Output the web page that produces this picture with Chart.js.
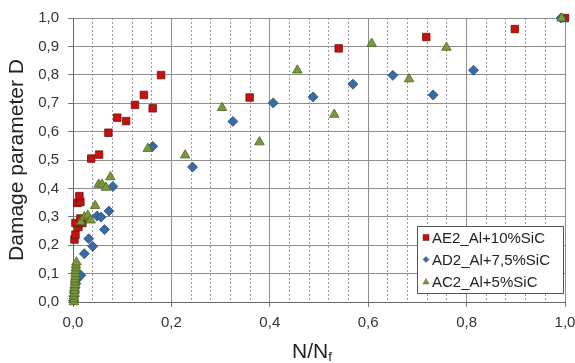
<!DOCTYPE html>
<html>
<head>
<meta charset="utf-8">
<script src="https://cdn.jsdelivr.net/npm/chart.js@4/dist/chart.umd.min.js"></script>
<style>
  html, body { margin: 0; padding: 0; background: #fff; }
  #wrap { width: 575px; height: 363px; }
</style>
</head>
<body>
<div id="wrap"><canvas id="c"></canvas></div>
<script>
// valeurs (N/Nf, D)
const seriesNames = ['AE2_Al+10%SiC', 'AD2_Al+7,5%SiC', 'AC2_Al+5%SiC'];

const ae2 = [
    [0.003, 0.220], [0.005, 0.237], [0.011, 0.264], [0.005, 0.278], [0.019, 0.278],
    [0.015, 0.294], [0.009, 0.349], [0.015, 0.352], [0.013, 0.373],
    [0.037, 0.505], [0.053, 0.519], [0.072, 0.596], [0.090, 0.649], [0.108, 0.637],
    [0.126, 0.694], [0.144, 0.729], [0.162, 0.682], [0.179, 0.799], [0.359, 0.720],
    [0.540, 0.893], [0.718, 0.933], [0.898, 0.961], [1.000, 1.000],
];
const ad2 = [
    [0.001, 0.005], [0.002, 0.020], [0.003, 0.035], [0.004, 0.050], [0.006, 0.065],
    [0.008, 0.080], [0.010, 0.090], [0.016, 0.094], [0.023, 0.170], [0.032, 0.223],
    [0.040, 0.196], [0.049, 0.303], [0.057, 0.299], [0.064, 0.255], [0.073, 0.320],
    [0.081, 0.407], [0.162, 0.548], [0.243, 0.475], [0.325, 0.636], [0.407, 0.701],
    [0.488, 0.722], [0.569, 0.767], [0.650, 0.798], [0.732, 0.729], [0.814, 0.816],
    [0.992, 1.000],
];
const ac2 = [
    [0.002, 0.000], [0.002, 0.010], [0.002, 0.020], [0.003, 0.030], [0.003, 0.040],
    [0.003, 0.050], [0.004, 0.060], [0.004, 0.070], [0.004, 0.080], [0.005, 0.090],
    [0.005, 0.100], [0.005, 0.110], [0.006, 0.120], [0.006, 0.130], [0.007, 0.140],
    [0.016, 0.282], [0.023, 0.299], [0.030, 0.305], [0.036, 0.288], [0.045, 0.339],
    [0.052, 0.414], [0.059, 0.414], [0.067, 0.403], [0.076, 0.440], [0.152, 0.540],
    [0.228, 0.517], [0.303, 0.684], [0.379, 0.563], [0.456, 0.816], [0.531, 0.660],
    [0.607, 0.910], [0.683, 0.785], [0.759, 0.896], [0.993, 0.999],
];

const xTickLabels = ['0,0', '0,2', '0,4', '0,6', '0,8', '1,0'];
const yTickLabels = ['0,0', '0,1', '0,2', '0,3', '0,4', '0,5', '0,6', '0,7', '0,8', '0,9', '1,0'];

const FONT = '"Liberation Sans", Arial, sans-serif';
const toPts = arr => arr.map(([x, y]) => ({ x, y }));

function drawMarker(ctx, style, x, y, r, fill, stroke) {
    ctx.beginPath();
    if (style === 'rect') {
        ctx.rect(x - r, y - r, 2 * r, 2 * r);
    } else if (style === 'rectRot') {
        ctx.moveTo(x - r, y); ctx.lineTo(x, y - r); ctx.lineTo(x + r, y); ctx.lineTo(x, y + r);
        ctx.closePath();
    } else {
        ctx.moveTo(x, y - r); ctx.lineTo(x + r, y + r * 0.8); ctx.lineTo(x - r, y + r * 0.8);
        ctx.closePath();
    }
    ctx.fillStyle = fill; ctx.fill();
    ctx.lineWidth = 0.5; ctx.strokeStyle = stroke; ctx.stroke();
}

// legende dans la zone du graphe + titre de l'axe x avec indice
const overlay = {
    id: 'overlay',
    afterDraw(chart) {
        const { ctx, chartArea: a } = chart;
        ctx.save();
        const bw = 146, bh = 67;
        const bx = Math.round(a.right - bw - 2), by = Math.round(a.bottom - bh - 9);
        ctx.fillStyle = '#fff';
        ctx.fillRect(bx, by, bw, bh);
        ctx.strokeStyle = '#555';
        ctx.lineWidth = 1;
        ctx.strokeRect(bx + 0.5, by + 0.5, bw, bh);
        chart.data.datasets.forEach((ds, i) => {
            const y = by + 11.5 + i * 22;
            drawMarker(ctx, ds.pointStyle, bx + 9, y, 3, ds.backgroundColor, ds.borderColor);
            ctx.fillStyle = '#222';
            ctx.font = '15px ' + FONT;
            ctx.textBaseline = 'middle';
            ctx.textAlign = 'left';
            ctx.fillText(ds.label, bx + 15, y + 1);
        });

        const big = '21px ' + FONT, small = '13px ' + FONT;
        ctx.font = big;
        const w1 = ctx.measureText('N/N').width;
        ctx.font = small;
        const w2 = ctx.measureText('f').width;
        const x0 = (a.left + a.right) / 2 - 7 - (w1 + w2) / 2;
        const base = a.bottom + 56;
        ctx.textBaseline = 'alphabetic';
        ctx.fillStyle = '#222';
        ctx.font = big;
        ctx.fillText('N/N', x0, base);
        ctx.font = small;
        ctx.fillText('f', x0 + w1, base + 3);
        ctx.restore();
    }
};

new Chart(document.getElementById('c'), {
    type: 'scatter',
    data: {
        datasets: [
            { label: seriesNames[0], data: toPts(ae2), pointStyle: 'rect', pointRadius: 5.3,
              backgroundColor: '#c8100e', borderColor: '#6e1410', borderWidth: 0.8, order: 3, clip: false },
            { label: seriesNames[1], data: toPts(ad2), pointStyle: 'rectRot', pointRadius: 5,
              backgroundColor: '#3a6aa4', borderColor: '#27507e', borderWidth: 0.8, order: 2, clip: false },
            { label: seriesNames[2], data: toPts(ac2), pointStyle: 'triangle', pointRadius: 5.5,
              backgroundColor: '#7a9a3a', borderColor: '#4a6420', borderWidth: 0.8, order: 1, clip: false },
        ],
    },
    options: {
        responsive: true, maintainAspectRatio: false, animation: false,
        layout: { padding: { top: 17, right: 10, left: 0, bottom: 0 } },
        plugins: { legend: { display: false }, tooltip: { enabled: false } },
        scales: {
            x: {
                type: 'linear', min: 0, max: 1, position: 'bottom',
                ticks: { stepSize: 0.2, padding: 7, color: '#333', font: { family: FONT, size: 15 },
                         callback: (v, i) => xTickLabels[i] },
                grid: { color: '#8e8e8e', tickLength: 5, tickColor: '#777' },
                border: { color: '#666' },
                afterFit: s => { s.height = 61; s.paddingRight = 0; s.paddingLeft = 0; },
            },
            x2: {
                type: 'linear', min: 0, max: 1, position: 'bottom', display: true,
                ticks: { stepSize: 0.04, display: false },
                grid: {
                    drawTicks: false,
                    color: c => (Math.abs(c.tick.value / 0.2 - Math.round(c.tick.value / 0.2)) < 1e-6) ? 'rgba(0,0,0,0)' : '#9a9a9a',
                },
                border: { display: false, dash: [2, 2] },
                afterFit: s => { s.height = 0; s.paddingRight = 0; s.paddingLeft = 0; },
            },
            y: {
                type: 'linear', min: 0, max: 1,
                ticks: { stepSize: 0.1, padding: 9, color: '#333', font: { family: FONT, size: 15 },
                         callback: (v, i) => yTickLabels[i] },
                grid: { color: '#8e8e8e', tickLength: 5, tickColor: '#777' },
                border: { color: '#666' },
                title: { display: true, text: 'Damage parameter D', color: '#222',
                         font: { family: FONT, size: 21 }, padding: { top: 5, bottom: 0 } },
                afterFit: s => { s.width = 73; },
            },
        },
    },
    plugins: [overlay],
});
</script>
</body>
</html>
